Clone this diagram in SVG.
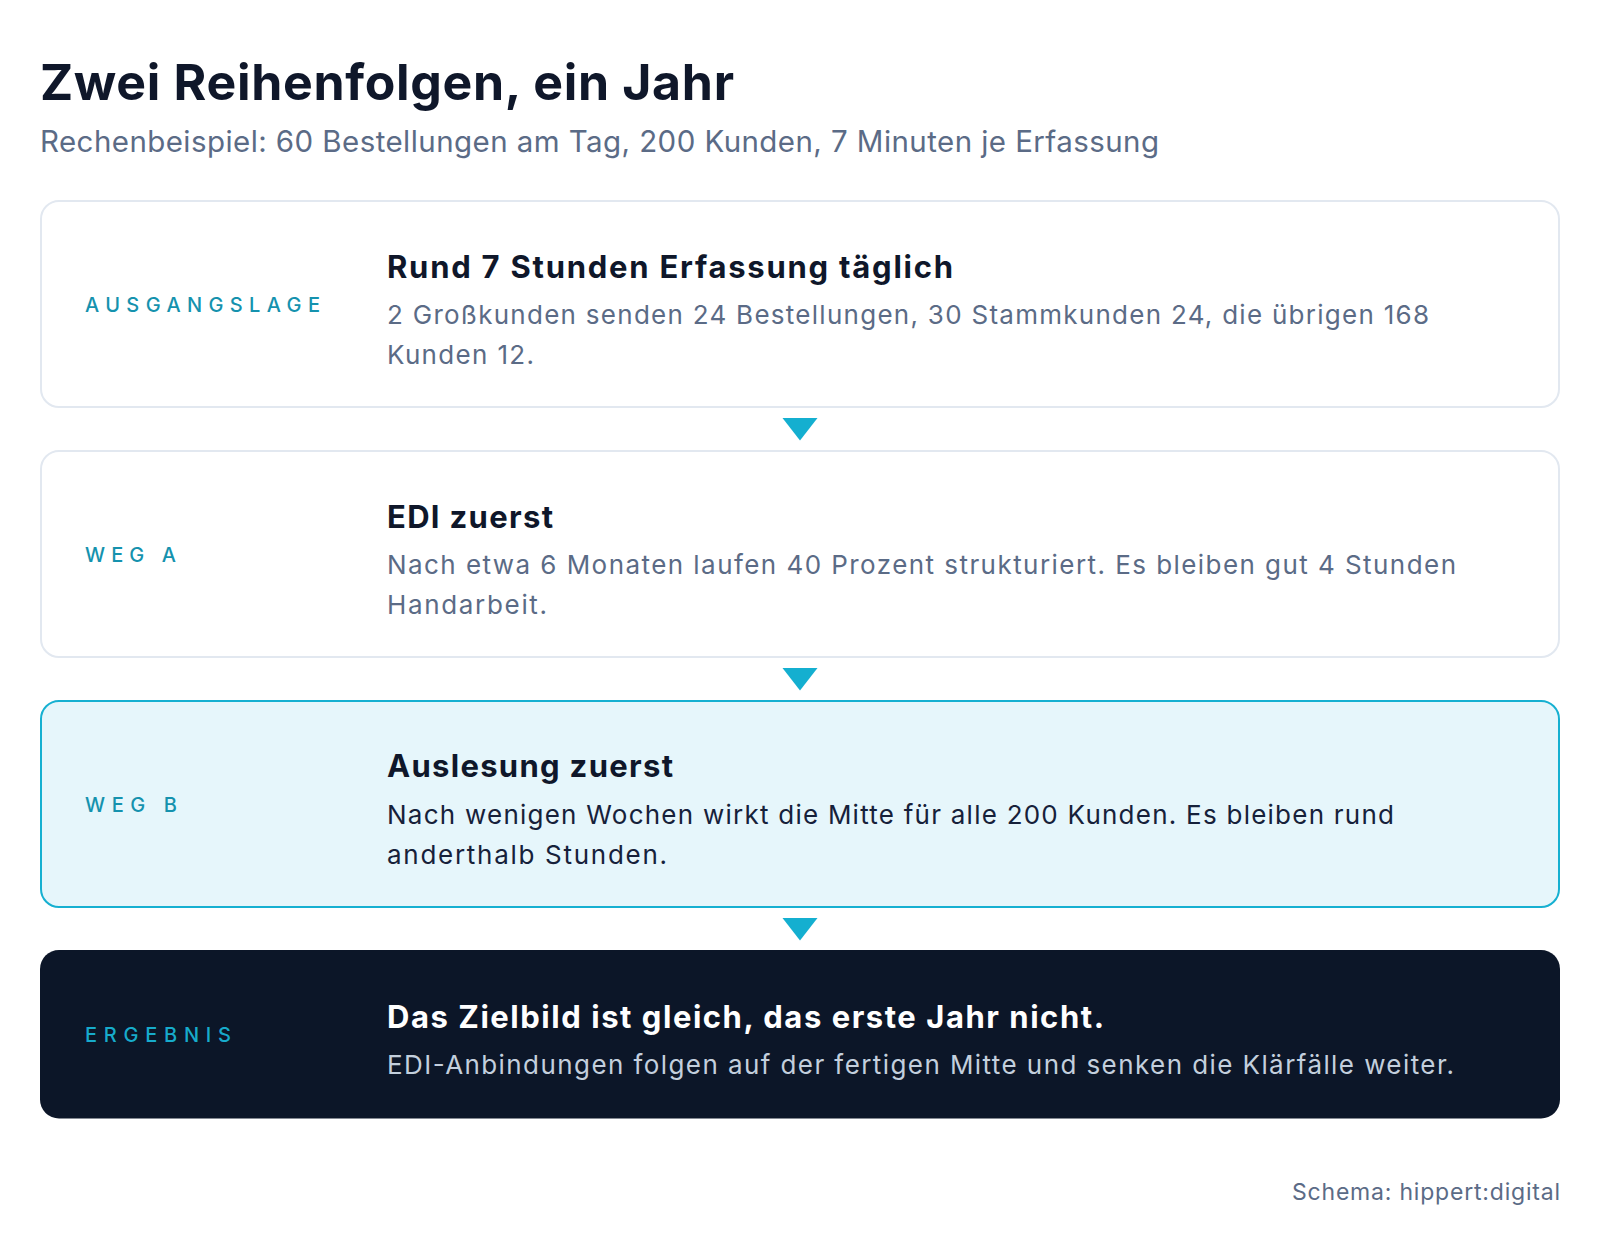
<svg xmlns="http://www.w3.org/2000/svg" width="1600" height="1238" viewBox="0 0 1600 1238">
  <style>
    text { font-family: Inter, "Noto Sans", "Liberation Sans", sans-serif; }
    .title { font-size: 50px; font-weight: 700; fill: #0f172a; }
    .sub { font-size: 29.5px; font-weight: 400; fill: #5b6b86; }
    .label { font-size: 20px; font-weight: 500; fill: #1592ae; }
    .label-dark { fill: #17abcb; }
    .head { font-size: 31px; font-weight: 700; fill: #0f172a; }
    .body { font-size: 26px; font-weight: 400; fill: #5b6b86; }
    .body-strong { fill: #16213a; }
    .head-light { fill: #ffffff; }
    .body-light { fill: #c3cfdd; }
    .card { fill: #ffffff; stroke: #e2e8f0; stroke-width: 2; }
    .card-hl { fill: #e6f6fb; stroke: #16b0d1; stroke-width: 2; }
    .card-dark { fill: #0c1628; }
    .arrow { fill: #14afd0; }
    .foot { font-size: 23px; font-weight: 400; fill: #5b6b86; }
  </style>
  <rect x="0" y="0" width="1600" height="1238" fill="#ffffff"/>

  <g id="header">
    <text class="title" x="40" y="100" textLength="694">Zwei Reihenfolgen, ein Jahr</text>
    <text class="sub" x="40" y="152" textLength="1119">Rechenbeispiel: 60 Bestellungen am Tag, 200 Kunden, 7 Minuten je Erfassung</text>
  </g>

  <g id="node-ausgangslage">
    <rect class="card" x="41" y="201" width="1518" height="206" rx="18"/>
    <text class="label" x="85" y="311.5" textLength="235">AUSGANGSLAGE</text>
    <text class="head" x="387" y="277.5" textLength="566">Rund 7 Stunden Erfassung täglich</text>
    <text class="body" x="387" y="323.5" textLength="1042">2 Großkunden senden 24 Bestellungen, 30 Stammkunden 24, die übrigen 168</text>
    <text class="body" x="387" y="363.5" textLength="147">Kunden 12.</text>
  </g>

  <g id="node-weg-a">
    <rect class="card" x="41" y="451" width="1518" height="206" rx="18"/>
    <text class="label" x="85" y="561.5" textLength="91">WEG A</text>
    <text class="head" x="387" y="527.5" textLength="166">EDI zuerst</text>
    <text class="body" x="387" y="573.5" textLength="1069">Nach etwa 6 Monaten laufen 40 Prozent strukturiert. Es bleiben gut 4 Stunden</text>
    <text class="body" x="387" y="613.5" textLength="160">Handarbeit.</text>
  </g>

  <g id="node-weg-b">
    <rect class="card-hl" x="41" y="701" width="1518" height="206" rx="18"/>
    <text class="label" x="85" y="812" textLength="92">WEG B</text>
    <text class="head" x="387" y="777" textLength="286">Auslesung zuerst</text>
    <text class="body body-strong" x="387" y="823.5" textLength="1007">Nach wenigen Wochen wirkt die Mitte für alle 200 Kunden. Es bleiben rund</text>
    <text class="body body-strong" x="387" y="863.5" textLength="280">anderthalb Stunden.</text>
  </g>

  <g id="node-ergebnis">
    <rect class="card-dark" x="40" y="950" width="1520" height="168.5" rx="19"/>
    <text class="label label-dark" x="85" y="1041.5" textLength="146">ERGEBNIS</text>
    <text class="head head-light" x="387" y="1028" textLength="717">Das Zielbild ist gleich, das erste Jahr nicht.</text>
    <text class="body body-light" x="387" y="1073.5" textLength="1067">EDI-Anbindungen folgen auf der fertigen Mitte und senken die Klärfälle weiter.</text>
  </g>

  <g id="connectors">
    <path class="arrow" d="M782.5 418 L817.5 418 L800 440.5 Z"/>
    <path class="arrow" d="M782.5 668 L817.5 668 L800 690.5 Z"/>
    <path class="arrow" d="M782.5 918 L817.5 918 L800 940.5 Z"/>
  </g>

  <g id="footer">
    <text class="foot" x="1560" y="1200" text-anchor="end" textLength="268">Schema: hippert:digital</text>
  </g>
</svg>
